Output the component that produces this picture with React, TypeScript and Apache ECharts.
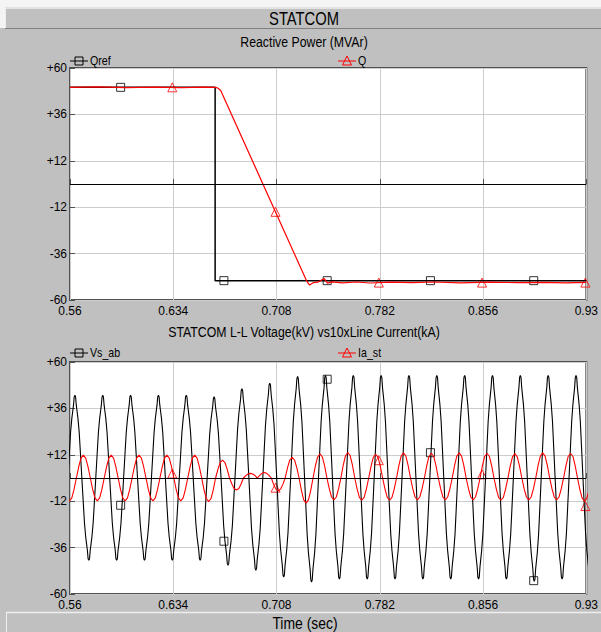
import React, { useEffect, useRef } from "react";
import * as echarts from "echarts";

// ---------- texts ----------
const mainTitle = "STATCOM";
const topTitle = "Reactive Power (MVAr)";
const bottomTitle = "STATCOM L-L Voltage(kV) vs10xLine Current(kA)";
const xTitle = "Time (sec)";
const topNames = ["Qref", "Q"];
const bottomNames = ["Vs_ab", "Ia_st"];

// ---------- axes ----------
const X_MIN = 0.56;
const X_MAX = 0.93;
const X_STEP = 0.074;
const Y_MIN = -60;
const Y_MAX = 60;
const Y_STEP = 24;

// ---------- top panel: reactive power ----------
const qrefTime = [0.56, 0.664, 0.664, 0.93];
const qrefValue = [50, 50, -50, -50];
const qTime = [0.56, 0.58, 0.6, 0.62, 0.64, 0.655, 0.6645, 0.6662, 0.668, 0.7296, 0.7317, 0.7345, 0.7375, 0.7422, 0.7445, 0.748, 0.755, 0.765, 0.775, 0.79, 0.805, 0.82, 0.84, 0.86, 0.88, 0.9, 0.915, 0.93];
const qValue = [50, 50.2, 49.8, 50.1, 49.9, 50.1, 50, 49.5, 48.4, -50.2, -52.3, -51, -50.8, -48.9, -51.3, -50.6, -51.1, -50.7, -51.2, -50.8, -51, -50.7, -51.1, -50.8, -51, -50.9, -51.1, -50.9];
const qrefMarkTime = [0.5963, 0.6703, 0.7443, 0.8183, 0.8923];
const qrefMarkValue = [50, -50, -50, -50, -50];
const qMarkTime = [0.6333, 0.7073, 0.7813, 0.8553, 0.9293];
const qMarkValue = [50, -14.4, -51, -51, -51];

// ---------- bottom panel: voltage & current ----------
// successive extremum values (peak / trough) of Vs_ab, read per half cycle
const vsFirstExtremumTime = 0.55353; // trough before the first visible peak
const vsHalfPeriod = 0.009975;
const vsExtrema = [
  -42.6, 42.8, -42.6, 42.8, -42.6, 42.8, -42.6, 42.8, -42.6, 42.8, -42.6, 42.0,
  -45.2, 46.2, -47.7, 49.1, -51.2, 52.6, -53.8, 53.1, -52.3, 53.1, -52.3, 53.1,
  -52.3, 53.1, -52.3, 53.1, -52.3, 53.1, -52.3, 53.1, -52.3, 53.1, -53.5, 53.1,
  -52.3, 53.1, -52.3,
];
// shape of one half cycle around an extremum (time offset, fraction of extremum)
const vsShapeOffset = [0, 0.0005, 0.001, 0.0016, 0.0022, 0.0031, 0.004];
const vsShapeFrac = [1, 0.98, 0.88, 0.8, 0.72, 0.55, 0.29];

const iaFirstExtremumTime = 0.5596;
const iaHalfPeriod = 0.009975;
const iaExtrema = [
  -11.8, 11.8, -11.8, 11.8, -11.8, 11.8, -11.8, 11.8, -11.8, 11.8, -12.2, 9.2,
  -6.2, 2.4, 2.8, -6.6, 10.7, -13.0, 12.5, -11.3, 13.2, -11.5, 12.3, -11.5,
  13.0, -11.3, 12.8, -11.3, 13.0, -11.3, 12.8, -11.5, 12.6, -11.3, 13.0, -11.3,
  12.8, -12.0, 12.8,
];
const iaShapeOffset = [0, 0.0017, 0.0033];
const iaShapeFrac = [1, 0.87, 0.5];

const vsMarkTime = [0.5963, 0.6703, 0.7443, 0.8183, 0.8923];
const vsMarkValue = [-14.1, -32.7, 51.1, 13.1, -53.1];
const iaMarkTime = [0.6333, 0.7073, 0.7813, 0.8553, 0.9293];
const iaMarkValue = [2.3, -5.0, 9.2, 1.9, -14.5];

// ---------- helpers ----------
const zip = (t: number[], v: number[]) => t.map((x, i) => [x, v[i]]);

function buildWave(
  firstT: number,
  half: number,
  extrema: number[],
  offs: number[],
  fracs: number[]
) {
  const pts: number[][] = [];
  for (let i = 0; i < extrema.length; i++) {
    const te = firstT + i * half;
    const e = extrema[i];
    for (let k = offs.length - 1; k >= 1; k--) pts.push([te - offs[k], e * fracs[k]]);
    pts.push([te, e]);
    for (let k = 1; k < offs.length; k++) pts.push([te + offs[k], e * fracs[k]]);
    if (i < extrema.length - 1) pts.push([te + half / 2, 0]);
  }
  return pts;
}

const FONT = '"Liberation Sans", Arial, sans-serif';
const NARROW = 0.82;
const GRID_LEFT = 70;
const GRID_W = 520;
const GRID_H = 232;
const TOP1 = 68;
const TOP2 = 362;

function makeAxes(gridIndex: number) {
  return {
    x: {
      type: "value",
      gridIndex,
      min: X_MIN,
      max: X_MAX,
      interval: X_STEP,
      axisLine: { show: false },
      axisTick: { show: true, inside: true, length: 5, lineStyle: { color: "#505050", width: 1 } },
      axisLabel: {
        show: true,
        color: "#000",
        fontFamily: FONT,
        fontSize: 12,
        margin: 5,
        showMinLabel: true,
        showMaxLabel: true,
        formatter: (v: number) => String(parseFloat(v.toFixed(3))),
      },
      splitLine: { show: true, lineStyle: { color: "#cccccc", width: 1 } },
    },
    y: {
      type: "value",
      gridIndex,
      min: Y_MIN,
      max: Y_MAX,
      interval: Y_STEP,
      axisLine: { show: false },
      axisTick: { show: true, inside: true, length: 5, lineStyle: { color: "#505050", width: 1 } },
      axisLabel: {
        show: true,
        color: "#000",
        fontFamily: FONT,
        fontSize: 12,
        margin: 3,
        padding: [8, 0, 0, 0],
        showMinLabel: true,
        showMaxLabel: true,
        formatter: (v: number) => (v > 0 ? "+" + v : String(v)),
      },
      splitLine: { show: true, lineStyle: { color: "#cccccc", width: 1 } },
    },
  };
}

function narrowText(x: number, y: number, text: string, size: number, align = "center") {
  return {
    type: "text",
    x,
    y,
    scaleX: NARROW,
    style: { text, fill: "#000", font: `${size}px ${FONT}`, align, verticalAlign: "middle" },
  };
}

function legendItem(x: number, y: number, color: string, kind: "square" | "triangle", label: string) {
  const children: any[] = [
    { type: "line", shape: { x1: x - 9, y1: y, x2: x + 9, y2: y }, style: { stroke: color, lineWidth: 1 } },
  ];
  if (kind === "square") {
    children.push({ type: "rect", shape: { x: x - 4, y: y - 4, width: 8, height: 8 }, style: { fill: "none", stroke: color, lineWidth: 1 } });
  } else {
    children.push({
      type: "polygon",
      shape: { points: [[x, y - 5], [x - 4.5, y + 4], [x + 4.5, y + 4]] },
      style: { fill: "none", stroke: color, lineWidth: 1 },
    });
  }
  children.push(narrowText(x + 11, y, label, 13, "left"));
  return { type: "group", children };
}

export default function App() {
  const ref = useRef<HTMLDivElement>(null);
  useEffect(() => {
    if (!ref.current) return;
    const chart = echarts.init(ref.current, undefined, { renderer: "svg" });
    const a1 = makeAxes(0);
    const a2 = makeAxes(1);
    const zeroLine = {
      silent: true,
      symbol: ["none", "none"],
      label: { show: false },
      lineStyle: { color: "#000", width: 1.2, type: "solid" },
      data: [{ yAxis: 0 }],
    };
    const markerStyle = (c: string) => ({ color: "rgba(0,0,0,0)", borderColor: c, borderWidth: 1 });

    chart.setOption({
      animation: false,
      backgroundColor: "#c0c0c0",
      grid: [
        { left: GRID_LEFT, top: TOP1, width: GRID_W, height: GRID_H, show: true, backgroundColor: "#fff", borderColor: "#505050", borderWidth: 2 },
        { left: GRID_LEFT, top: TOP2, width: GRID_W, height: GRID_H, show: true, backgroundColor: "#fff", borderColor: "#505050", borderWidth: 2 },
      ],
      xAxis: [a1.x, a2.x],
      yAxis: [a1.y, a2.y],
      graphic: [
        { type: "rect", shape: { x: 0, y: 0, width: 601, height: 7 }, style: { fill: "#f4f4f4" } },
        { type: "rect", shape: { x: 0, y: 0, width: 5, height: 28 }, style: { fill: "#f4f4f4" } },
        { type: "line", shape: { x1: 5, y1: 8, x2: 601, y2: 8 }, style: { stroke: "#eeeeee", lineWidth: 1.5 } },
        { type: "line", shape: { x1: 5.5, y1: 8, x2: 5.5, y2: 28 }, style: { stroke: "#eeeeee", lineWidth: 1 } },
        { type: "line", shape: { x1: 5, y1: 28.5, x2: 601, y2: 28.5 }, style: { stroke: "#808080", lineWidth: 1 } },
        { type: "line", shape: { x1: 6, y1: 612.5, x2: 601, y2: 612.5 }, style: { stroke: "#eeeeee", lineWidth: 1.5 } },
        { type: "line", shape: { x1: 6.5, y1: 612, x2: 6.5, y2: 632 }, style: { stroke: "#eeeeee", lineWidth: 1 } },
        narrowText(304, 18, mainTitle, 18),
        narrowText(304, 42, topTitle, 15),
        narrowText(304, 332, bottomTitle, 15),
        narrowText(305, 623, xTitle, 17),
        legendItem(79, 61, "#000", "square", topNames[0]),
        legendItem(347, 61, "#ff0000", "triangle", topNames[1]),
        legendItem(79, 353, "#000", "square", bottomNames[0]),
        legendItem(347, 353, "#ff0000", "triangle", bottomNames[1]),
      ],
      series: [
        {
          name: topNames[0], type: "line", xAxisIndex: 0, yAxisIndex: 0, showSymbol: false, symbol: "none",
          data: zip(qrefTime, qrefValue), lineStyle: { color: "#000", width: 1.5 }, markLine: zeroLine,
        },
        {
          name: topNames[1], type: "line", xAxisIndex: 0, yAxisIndex: 0, showSymbol: false, symbol: "none",
          data: zip(qTime, qValue), lineStyle: { color: "#ff0000", width: 1.2 },
        },
        {
          type: "scatter", xAxisIndex: 0, yAxisIndex: 0, symbol: "rect", symbolSize: 8,
          data: zip(qrefMarkTime, qrefMarkValue), itemStyle: markerStyle("#000"),
        },
        {
          type: "scatter", xAxisIndex: 0, yAxisIndex: 0, symbol: "triangle", symbolSize: [9, 9],
          data: zip(qMarkTime, qMarkValue), itemStyle: markerStyle("#ff0000"),
        },
        {
          name: bottomNames[0], type: "line", xAxisIndex: 1, yAxisIndex: 1, showSymbol: false, symbol: "none",
          data: buildWave(vsFirstExtremumTime, vsHalfPeriod, vsExtrema, vsShapeOffset, vsShapeFrac),
          lineStyle: { color: "#000", width: 1.1 }, markLine: zeroLine,
        },
        {
          name: bottomNames[1], type: "line", xAxisIndex: 1, yAxisIndex: 1, showSymbol: false, symbol: "none",
          data: buildWave(iaFirstExtremumTime, iaHalfPeriod, iaExtrema, iaShapeOffset, iaShapeFrac),
          lineStyle: { color: "#ff0000", width: 1.1 },
        },
        {
          type: "scatter", xAxisIndex: 1, yAxisIndex: 1, symbol: "rect", symbolSize: 8,
          data: zip(vsMarkTime, vsMarkValue), itemStyle: markerStyle("#000"),
        },
        {
          type: "scatter", xAxisIndex: 1, yAxisIndex: 1, symbol: "triangle", symbolSize: [9, 9],
          data: zip(iaMarkTime, iaMarkValue), itemStyle: markerStyle("#ff0000"),
        },
      ],
    });
    return () => chart.dispose();
  }, []);
  return <div ref={ref} style={{ position: "absolute", left: 0, top: 0, width: 601, height: 632 }} />;
}
